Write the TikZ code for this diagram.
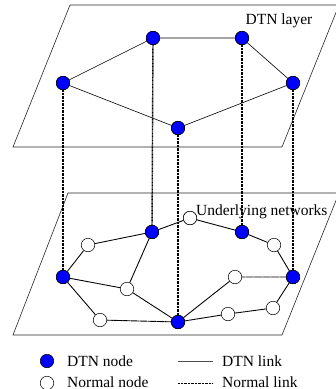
\documentclass[tikz,border=0pt]{standalone}
\usepackage{fontspec}
\setmainfont{Liberation Serif}
\begin{document}
\begin{tikzpicture}[x=1pt,y=-1pt,
  plane/.style={draw=black!85,line width=0.6pt},
  dtn/.style={circle,draw=black,line width=0.5pt,fill=blue,minimum size=13.5pt,inner sep=0pt},
  nrm/.style={circle,draw=black,line width=0.5pt,fill=white,minimum size=13.5pt,inner sep=0pt},
  dlink/.style={draw=black,line width=0.6pt},
  nlink/.style={draw=black,line width=0.9pt,dash pattern=on 1.4pt off 0.3pt},
  vlink/.style={draw=black,line width=1.4pt,dash pattern=on 0.9pt off 0.5pt},
  lbl/.style={font=\fontsize{15.5}{17}\selectfont,inner sep=0pt}]
\useasboundingbox (0,0) rectangle (336,389);
% planes
\draw[plane] (70,5) -- (339,5) -- (282,147) -- (13,147) -- cycle;
\draw[plane] (68,193) -- (339,193) -- (282,335) -- (13,335) -- cycle;
\node[lbl,anchor=base] (tl) at (279,24) {DTN layer};
% top nodes
\node[dtn] (A) at (153,38) {};
\node[dtn] (B) at (242,38) {};
\node[dtn] (C) at (63,83) {};
\node[dtn] (D) at (293,83) {};
\node[dtn] (E) at (178,128) {};
\draw[dlink] (C) -- (A) -- (B) -- (D) -- (E) -- (C);
% bottom nodes
\node[dtn] (a) at (152,232) {};
\node[dtn] (b) at (242,232) {};
\node[dtn] (c) at (63,277) {};
\node[dtn] (d) at (293,277) {};
\node[dtn] (e) at (178,322) {};
\node[nrm] (n1) at (88,245) {};
\node[nrm] (n2) at (190,218) {};
\node[nrm] (n3) at (274,245) {};
\node[nrm] (n4) at (127,289) {};
\node[nrm] (n5) at (235,277) {};
\node[nrm] (n6) at (100,320) {};
\node[nrm] (n7) at (228,314) {};
\node[nrm] (n8) at (273,308) {};
% vertical links
\draw[vlink] (C) -- (c);
\draw[vlink] (A) -- (a);
\draw[vlink] (E) -- (e);
\draw[vlink] (B) -- (b);
\draw[vlink] (D) -- (d);
% bottom links
\draw[nlink] (c) -- (n1) -- (a) -- (n2) -- (b) -- (n3) -- (d);
\draw[nlink] (d) -- (n5) -- (e);
\draw[nlink] (a) -- (n4) -- (c);
\draw[nlink] (n4) -- (e);
\draw[nlink] (c) -- (n6) -- (e) -- (n7) -- (n8) -- (d);
% redraw nodes on top
\node[dtn] at (a) {};
\node[dtn] at (b) {};
\node[dtn] at (c) {};
\node[dtn] at (d) {};
\node[dtn] at (e) {};
\node[dtn] at (A) {};
\node[dtn] at (B) {};
\node[dtn] at (C) {};
\node[dtn] at (D) {};
\node[dtn] at (E) {};
\node[nrm] at (n2) {};
\node[lbl,anchor=base west] (bl) at (196,215) {Underlying networks};
% legend
\node[dtn] (ld) at (47,361) {};
\node[nrm] (ln) at (47,383) {};
\node[lbl,anchor=base west] (tld) at (67,366) {DTN node};
\node[lbl,anchor=base west] (tln) at (67,387) {Normal node};
\coordinate (l1a) at (178,361);
\coordinate (l1b) at (213,361);
\coordinate (l2a) at (178,383);
\coordinate (l2b) at (213,383);
\draw[draw=black!70,line width=0.7pt] (l1a) -- (l1b);
\draw[draw=black,line width=0.8pt,dash pattern=on 1pt off 0.4pt] (l2a) -- (l2b);
\node[lbl,anchor=base west] (tdl) at (222,366) {DTN link};
\node[lbl,anchor=base west] (tnl) at (222,387) {Normal link};
\end{tikzpicture}
\end{document}
